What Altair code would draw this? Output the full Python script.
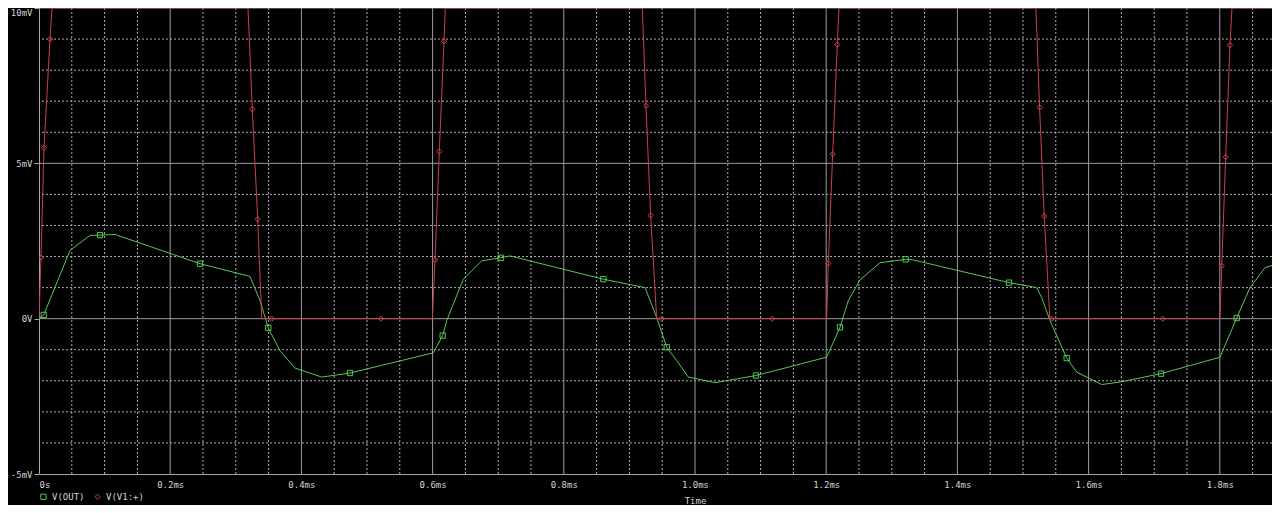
import altair as alt
import pandas as pd

# ---------------- data (ms, mV) ----------------
out_t = [0, 0.0072, 0.0473, 0.0777, 0.093, 0.1159, 0.2454, 0.3216, 0.3369, 0.3495,
         0.3674, 0.3826, 0.3902, 0.431, 0.4741, 0.601, 0.6154, 0.6215, 0.6468, 0.6748,
         0.7038, 0.718, 0.8602, 0.9238, 0.9416, 0.9569, 0.9721, 0.9898, 1.0305, 1.093,
         1.2007, 1.221, 1.2337, 1.2515, 1.282, 1.3212, 1.3328, 1.4787, 1.5209, 1.5285,
         1.5412, 1.5666, 1.5818, 1.62, 1.6479, 1.7104, 1.8003, 1.8258, 1.8461, 1.8689, 1.8918]
out_v = [0, 0.12, 2.2, 2.68, 2.69, 2.71, 1.77, 1.36, 0.58, -0.30,
         -1.03, -1.40, -1.59, -1.88, -1.75, -1.10, -0.545, -0.064, 1.27, 1.86,
         1.96, 2.02, 1.27, 1.0, 0.04, -0.92, -1.35, -1.88, -2.06, -1.83,
         -1.24, -0.28, 0.58, 1.25, 1.80, 1.91, 1.89, 1.16, 1.0, 0.68,
         -0.06, -1.27, -1.72, -2.12, -2.04, -1.77, -1.24, 0.02, 1.0, 1.64, 1.80]

in_t = [0, 0.003, 0.0076, 0.0168, 0.0198, 0.3186, 0.3252, 0.3334, 0.3395, 0.5996,
        0.6037, 0.6102, 0.6174, 0.6194, 0.9197, 0.9253, 0.9324, 0.9416, 1.2007, 1.2032,
        1.2099, 1.2169, 1.2195, 1.5197, 1.5253, 1.5324, 1.541, 1.8003, 1.803, 1.809,
        1.8155, 1.8186, 1.95]
in_v = [0, 1.97, 5.5, 9.0, 10, 10, 6.74, 3.2, 0, 0,
        1.89, 5.38, 8.93, 10, 10, 6.85, 3.32, 0, 0, 1.78,
        5.3, 8.82, 10, 10, 6.8, 3.3, 0, 0, 1.7, 5.2,
        8.8, 10, 10]

out_mk_t = [0.0072, 0.093, 0.2454, 0.3495, 0.4741, 0.6154, 0.7038, 0.8602, 0.9569, 1.093,
            1.221, 1.3212, 1.4787, 1.5666, 1.7104, 1.8258]
out_mk_v = [0.12, 2.69, 1.77, -0.30, -1.75, -0.545, 1.96, 1.27, -0.92, -1.83,
            -0.28, 1.91, 1.16, -1.27, -1.77, 0.02]

in_mk_t = [0.003, 0.0076, 0.0168, 0.3252, 0.3334, 0.3547, 0.5213, 0.6037, 0.6102, 0.6174,
           0.9253, 0.9324, 0.9492, 1.1179, 1.2032, 1.2099, 1.2169, 1.5253, 1.5324, 1.5437,
           1.713, 1.803, 1.809, 1.8155]
in_mk_v = [1.97, 5.5, 9.0, 6.74, 3.2, 0, 0, 1.89, 5.38, 8.93,
           6.85, 3.32, 0, 0, 1.78, 5.3, 8.82, 6.8, 3.3, 0,
           0, 1.7, 5.2, 8.8]

series_names = ["V(OUT)", "V(V1:+)"]

x_tick_vals = [0, 0.2, 0.4, 0.6, 0.8, 1.0, 1.2, 1.4, 1.6, 1.8]
x_tick_labels = ["0s", "0.2ms", "0.4ms", "0.6ms", "0.8ms", "1.0ms", "1.2ms", "1.4ms", "1.6ms", "1.8ms"]
y_tick_vals = [-5, 0, 5, 10]
y_tick_labels = ["-5mV", "0V", "5mV", "10mV"]

x_major = [0.2, 0.4, 0.6, 0.8, 1.0, 1.2, 1.4, 1.6, 1.8]
x_minor = [0.05, 0.1, 0.15, 0.25, 0.3, 0.35, 0.45, 0.5, 0.55, 0.65, 0.7, 0.75,
           0.85, 0.9, 0.95, 1.05, 1.1, 1.15, 1.25, 1.3, 1.35, 1.45, 1.5, 1.55,
           1.65, 1.7, 1.75, 1.85]
y_major = [0, 5, 10]
y_minor = [-4, -3, -2, -1, 1, 2, 3, 4, 6, 7, 8, 9]

# ---------------- style ----------------
GREEN = "#55c855"
RED = "#c8404e"
GRID_MAJOR = "#9c9c9c"
GRID_MINOR = "#b0b0b0"
AXIS = "#a8a8a8"
TEXT = "#d4d4d4"
FONT = "DejaVu Sans Mono"

W = 1233
H = 466
x_domain = [0, 1.8796]
y_domain = [-5, 10]


def label_expr(vals, labels):
    expr = "''"
    for v, l in reversed(list(zip(vals, labels))):
        expr = f"abs(datum.value - ({v})) < 1e-6 ? '{l}' : ({expr})"
    return expr


out_df = pd.DataFrame({"t": out_t, "v": out_v})
in_df = pd.DataFrame({"t": in_t, "v": in_v})
marks = pd.DataFrame({
    "t": out_mk_t + in_mk_t,
    "v": out_mk_v + in_mk_v,
    "series": [series_names[0]] * len(out_mk_t) + [series_names[1]] * len(in_mk_t),
})

x_scale = alt.Scale(domain=x_domain, nice=False, zero=False)
y_scale = alt.Scale(domain=y_domain, nice=False, zero=False)
color_scale = alt.Scale(domain=series_names, range=[GREEN, RED])
shape_scale = alt.Scale(domain=series_names, range=["square", "diamond"])

x_axis = alt.Axis(
    values=x_tick_vals, labelExpr=label_expr(x_tick_vals, x_tick_labels),
    grid=False, ticks=False, domain=True, domainColor=AXIS, domainWidth=1,
    labelFont=FONT, labelFontSize=9, labelColor=TEXT, labelPadding=6,
    labelFlush=True, labelBaseline="top",
    title="Time", titleFont=FONT, titleFontSize=9, titleFontWeight="normal",
    titleColor=TEXT, titleX=W * 1.0 / x_domain[1], titleY=29, titleAlign="center",
    titleBaseline="alphabetic",
)
y_axis = alt.Axis(
    values=y_tick_vals, labelExpr=label_expr(y_tick_vals, y_tick_labels),
    grid=False, ticks=True, tickSize=5, tickColor=AXIS, domain=True, domainColor=AXIS,
    labelFont=FONT, labelFontSize=9, labelColor=TEXT, labelPadding=2, title=None,
    labelBaseline={"condition": {"test": "datum.value >= 10", "value": "top"}, "value": "middle"},
)

X = alt.X("t:Q", scale=x_scale, axis=x_axis)
Y = alt.Y("v:Q", scale=y_scale, axis=y_axis)

xminor = alt.Chart(pd.DataFrame({"t": x_minor})).mark_rule(
    color=GRID_MINOR, strokeWidth=1, strokeDash=[2, 2]
).encode(x=X)
yminor = alt.Chart(pd.DataFrame({"v": y_minor})).mark_rule(
    color=GRID_MINOR, strokeWidth=1, strokeDash=[2, 2]
).encode(y=Y)
xmajor = alt.Chart(pd.DataFrame({"t": x_major})).mark_rule(
    color=GRID_MAJOR, strokeWidth=1
).encode(x=X)
ymajor = alt.Chart(pd.DataFrame({"v": y_major})).mark_rule(
    color=GRID_MAJOR, strokeWidth=1
).encode(y=Y)

out_line = alt.Chart(out_df).mark_line(strokeWidth=1, clip=True, color=GREEN).encode(
    x=X, y=Y, order=alt.Order("t:Q"))
in_line = alt.Chart(in_df).mark_line(strokeWidth=1, clip=True, color=RED).encode(
    x=X, y=Y, order=alt.Order("t:Q"))

legend = alt.Legend(title=None, orient="none", legendX=0, legendY=484, direction="horizontal")

point_layer = alt.Chart(marks).mark_point(filled=False, strokeWidth=1, size=28, clip=True, opacity=1).encode(
    x=X, y=Y,
    color=alt.Color("series:N", scale=color_scale, legend=legend),
    shape=alt.Shape("series:N", scale=shape_scale, legend=legend),
)

chart = alt.layer(xminor, yminor, xmajor, ymajor, out_line, in_line, point_layer).properties(
    width=W, height=H,
    autosize=alt.AutoSizeParams(type="none"),
    padding={"left": 31, "top": 0, "right": 0, "bottom": 31},
    background="#000000",
).configure_view(stroke=None).configure_legend(
    labelFont=FONT, labelFontSize=9, labelColor=TEXT, symbolSize=28, symbolStrokeWidth=1,
    padding=0, labelOffset=4, columnPadding=7, symbolFillColor="transparent",
)

chart.save("out.html", embed_options={"renderer": "svg", "actions": False})
